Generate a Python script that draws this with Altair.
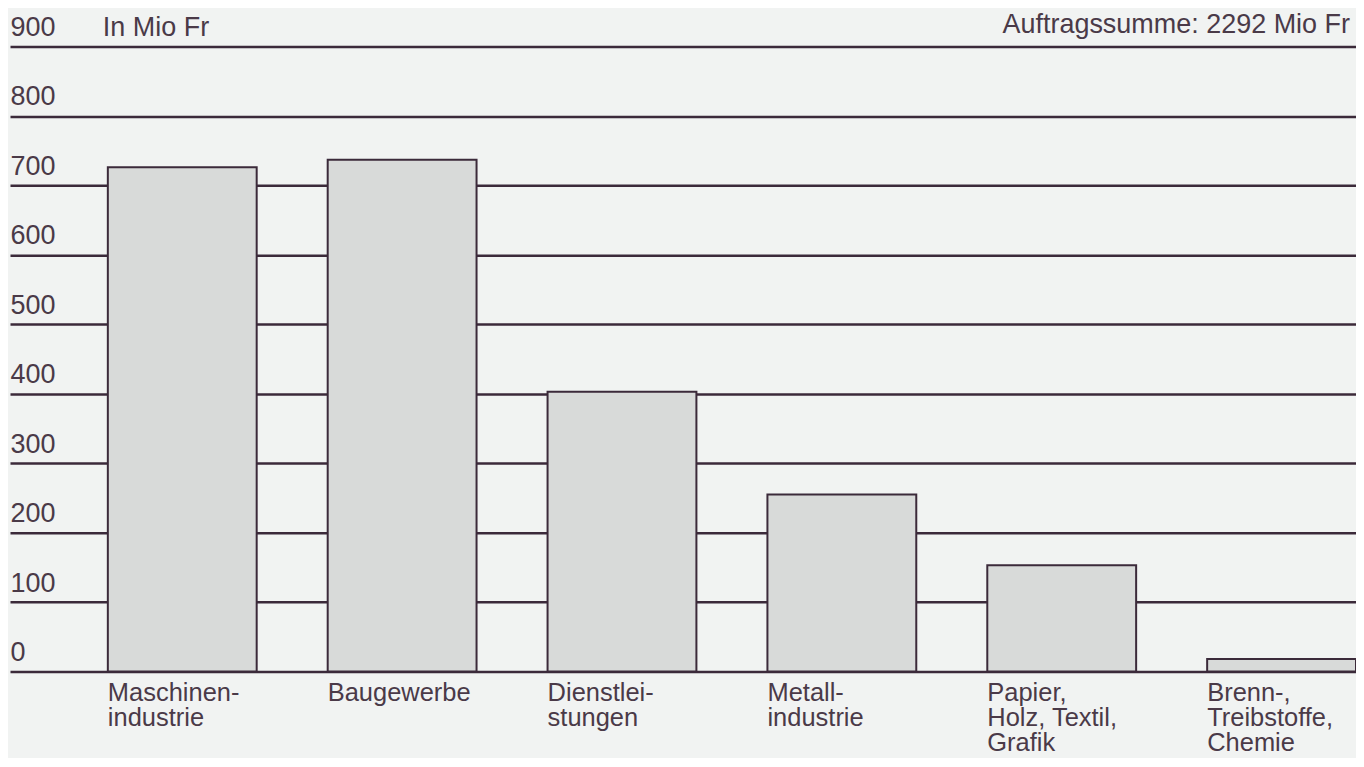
import altair as alt
import pandas as pd

categories = [
    "Maschinen-\nindustrie",
    "Baugewerbe",
    "Dienstlei-\nstungen",
    "Metall-\nindustrie",
    "Papier,\nHolz, Textil,\nGrafik",
    "Brenn-,\nTreibstoffe,\nChemie",
]
values = [726, 737, 403, 255, 153, 18]
y_ticks = [0, 100, 200, 300, 400, 500, 600, 700, 800, 900]
unit_label = "In Mio Fr"
total_label = "Auftragssumme: 2292 Mio Fr"

FONT = "Liberation Sans"
TEXT = "#4a3a48"
LINE = "#3b2a3a"

df = pd.DataFrame({"cat": categories, "value": values})

x = alt.X(
    "cat:N",
    sort=categories,
    scale=alt.Scale(paddingInner=0.323, paddingOuter=0.2225, align=1),
    axis=alt.Axis(
        title="",
        domain=False,
        ticks=False,
        labelAlign="left",
        labelBaseline="top",
        labelOffset=-74.5,
        labelPadding=9,
        labelFont=FONT,
        labelFontSize=25.5,
        labelLineHeight=25,
        labelColor=TEXT,
        labelOverlap=False,
        labelBound=False,
        labelLimit=400,
        labelAngle=0,
        labelExpr="split(datum.value, '\\n')",
    ),
)

y = alt.Y(
    "value:Q",
    scale=alt.Scale(domain=[0, 900], nice=False),
    axis=alt.Axis(
        title="",
        values=y_ticks,
        domain=False,
        ticks=False,
        grid=True,
        gridColor=LINE,
        gridWidth=2.5,
        gridOpacity=1,
        labelAlign="left",
        labelBaseline="alphabetic",
        labelPadding=0,
        labelOffset=-11,
        labelFont=FONT,
        labelFontSize=27,
        labelColor=TEXT,
        labelBound=False,
        labelFlush=False,
    ),
)

bars = alt.Chart(df).mark_bar(
    fill="#d8dad9", stroke=LINE, strokeWidth=2, opacity=1
).encode(x=x, y=y)

notes = pd.DataFrame({"txt": [unit_label], "v": [900]})
unit = alt.Chart(notes).mark_text(
    align="left", baseline="alphabetic", dy=-11, font=FONT, fontSize=27, color=TEXT
).encode(x=alt.value(93), y=alt.Y("v:Q"), text="txt:N")

notes2 = pd.DataFrame({"txt": [total_label], "v": [900]})
total = alt.Chart(notes2).mark_text(
    align="right", baseline="alphabetic", dy=-14, font=FONT, fontSize=27, color=TEXT
).encode(x=alt.value(1342), y=alt.Y("v:Q"), text="txt:N")

chart = (
    alt.layer(bars, unit, total)
    .properties(
        width=1348,
        height=626,
        autosize=alt.AutoSizeParams(type="none"),
        padding={"left": 2, "top": 38, "right": 0, "bottom": 86},
        background="#f1f3f2",
    )
    .configure_view(stroke=None)
)

chart.save("out.html", embed_options={"renderer": "svg", "actions": False})
